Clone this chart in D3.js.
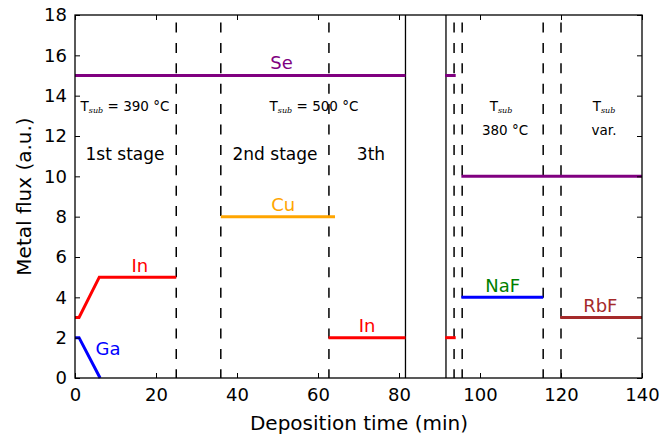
<!DOCTYPE html>
<html>
<head>
<meta charset="utf-8">
<script src="https://cdn.jsdelivr.net/npm/d3@7"></script>
<style>
  body { margin: 0; background: #fff; }
  svg { font-family: "DejaVu Sans", sans-serif; }
</style>
</head>
<body>
<svg id="chart" width="661" height="439"></svg>
<script>
// flux series, each one as [time, flux] points
var seA = [[0, 15], [81.6, 15]];
var seB = [[91.4, 15], [94, 15]];
var seC = [[95.4, 10], [140, 10]];
var inA = [[0, 3], [1, 3], [6, 5], [25, 5]];
var inB = [[62.6, 2], [81.6, 2]];
var inC = [[91.4, 2], [94, 2]];
var gaA = [[0, 2], [1, 2], [6.2, 0]];
var cuA = [[36, 8], [64.2, 8]];
var nafA = [[95.4, 4], [115.6, 4]];
var rbfA = [[119.8, 3], [140, 3]];

var series = [
  { pts: seA, color: "#800080" }, { pts: seB, color: "#800080" }, { pts: seC, color: "#800080" },
  { pts: inA, color: "#ff0000" }, { pts: inB, color: "#ff0000" }, { pts: inC, color: "#ff0000" },
  { pts: gaA, color: "#0000ff" },
  { pts: cuA, color: "#ffa500" },
  { pts: nafA, color: "#0000ff" },
  { pts: rbfA, color: "#a52a2a" }
];

// stage boundaries
var dashedAt = [25, 36, 62.7, 93.6, 95.6, 115.6, 120];
var solidAt = [81.6, 91.6];

var xTicks = [0, 20, 40, 60, 80, 100, 120, 140];
var yTicks = [0, 2, 4, 6, 8, 10, 12, 14, 16, 18];

// series names placed at [time, flux]
var names = [
  { t: "Se", x: 51, y: 15.3, color: "#800080" },
  { t: "Cu", x: 51.4, y: 8.27, color: "#ffa500" },
  { t: "In", x: 16, y: 5.27, color: "#ff0000" },
  { t: "Ga", x: 8.15, y: 1.15, color: "#0000ff" },
  { t: "In", x: 72.1, y: 2.27, color: "#ff0000" },
  { t: "NaF", x: 105.6, y: 4.25, color: "#008000" },
  { t: "RbF", x: 129.7, y: 3.28, color: "#a52a2a" }
];

var svg = d3.select("#chart");
var mLeft = 75, mRight = 642, mTop = 15, mBottom = 378;

var x = d3.scaleLinear().domain([0, 140]).range([mLeft, mRight]);
var y = d3.scaleLinear().domain([0, 18]).range([mBottom, mTop]);

// dashed and solid vertical lines
svg.selectAll(".dash").data(dashedAt).enter().append("line")
  .attr("x1", d => x(d)).attr("x2", d => x(d))
  .attr("y1", y(0)).attr("y2", y(18))
  .attr("stroke", "#000").attr("stroke-width", 1.5)
  .attr("stroke-dasharray", "10,10.4")
  .attr("stroke-dashoffset", 1.3);

svg.selectAll(".solid").data(solidAt).enter().append("line")
  .attr("x1", d => x(d)).attr("x2", d => x(d))
  .attr("y1", y(0)).attr("y2", y(18))
  .attr("stroke", "#000").attr("stroke-width", 1.3);

var line = d3.line().x(d => x(d[0])).y(d => y(d[1]));
svg.selectAll(".flux").data(series).enter().append("path")
  .attr("d", d => line(d.pts))
  .attr("fill", "none")
  .attr("stroke", d => d.color)
  .attr("stroke-width", 3);

svg.selectAll(".name").data(names).enter().append("text")
  .attr("x", d => x(d.x)).attr("y", d => y(d.y))
  .attr("text-anchor", "middle")
  .attr("font-size", 18)
  .attr("fill", d => d.color)
  .text(d => d.t);

// stage annotations
function tsub(g, cx, cy, rest) {
  var t = g.append("text").attr("x", cx).attr("y", cy)
    .attr("text-anchor", "middle").attr("font-size", 13.5).attr("fill", "#000");
  t.append("tspan").text("T");
  t.append("tspan").attr("font-size", 8).attr("font-style", "italic")
    .attr("font-family", "DejaVu Serif, serif").attr("dy", 2).text("sub");
  if (rest) t.append("tspan").attr("dy", -2).text(" = " + rest);
}
var ann = svg.append("g");
tsub(ann, 125, 111, "390 °C");
tsub(ann, 314, 111, "500 °C");
tsub(ann, 501, 111, null);
tsub(ann, 604, 111, null);

var plain = [
  { t: "1st stage", x: 125, y: 160, s: 17 },
  { t: "2nd stage", x: 275, y: 160, s: 17 },
  { t: "3th", x: 371, y: 160, s: 17 },
  { t: "380 °C", x: 505, y: 135, s: 13.5 },
  { t: "var.", x: 604, y: 135, s: 13.5 }
];
ann.selectAll(".pl").data(plain).enter().append("text")
  .attr("x", d => d.x).attr("y", d => d.y)
  .attr("text-anchor", "middle")
  .attr("font-size", d => d.s)
  .text(d => d.t);

// axes, ticks inward on all four sides
svg.append("g").attr("transform", "translate(0," + mBottom + ")")
  .call(d3.axisBottom(x).tickValues(xTicks).tickSizeInner(-5).tickSizeOuter(0).tickPadding(10));
svg.append("g").attr("transform", "translate(0," + mTop + ")")
  .call(d3.axisTop(x).tickValues(xTicks).tickSizeInner(-5).tickSizeOuter(0).tickFormat(""));
svg.append("g").attr("transform", "translate(" + mLeft + ",0)")
  .call(d3.axisLeft(y).tickValues(yTicks).tickSizeInner(-5).tickSizeOuter(0).tickPadding(8));
svg.append("g").attr("transform", "translate(" + mRight + ",0)")
  .call(d3.axisRight(y).tickValues(yTicks).tickSizeInner(-5).tickSizeOuter(0).tickFormat(""));

svg.selectAll(".domain").remove();
svg.selectAll(".tick text").attr("font-size", 18).attr("font-family", "DejaVu Sans, sans-serif").attr("fill", "#000");
svg.selectAll(".tick line").attr("stroke", "#000");

svg.append("rect").attr("x", mLeft).attr("y", mTop)
  .attr("width", mRight - mLeft).attr("height", mBottom - mTop)
  .attr("fill", "none").attr("stroke", "#000").attr("stroke-width", 1.3);

svg.append("text").attr("x", 359).attr("y", 430)
  .attr("text-anchor", "middle").attr("font-size", 20).text("Deposition time (min)");
svg.append("text").attr("transform", "translate(31," + ((mTop + mBottom) / 2) + ") rotate(-90)")
  .attr("text-anchor", "middle").attr("font-size", 20).text("Metal flux (a.u.)");
</script>
</body>
</html>
